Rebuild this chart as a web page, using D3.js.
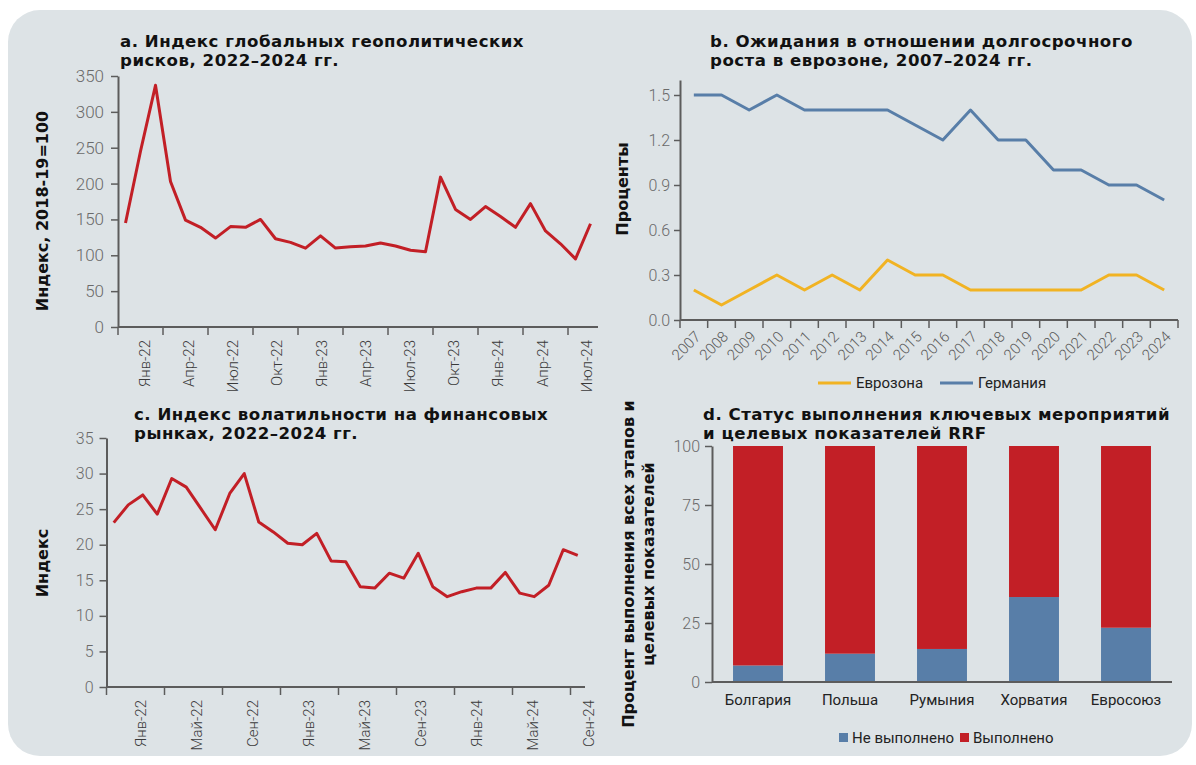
<!DOCTYPE html>
<html>
<head>
<meta charset="utf-8">
<script src="https://cdnjs.cloudflare.com/ajax/libs/d3/7.8.5/d3.min.js"></script>
<style>
  body { margin: 0; background: #fff; }
  svg { display: block; }
  .title { font-family: 'DejaVu Sans', sans-serif; font-weight: 700; font-size: 16.6px; letter-spacing: 0.5px; fill: #111; }
  .ytitle { font-family: 'DejaVu Sans', sans-serif; font-weight: 700; font-size: 16px; fill: #111; }
  .lbl { font-family: Roboto, 'Liberation Sans', sans-serif; font-weight: 300; }
</style>
</head>
<body>
<svg id="chart" width="1196" height="765"></svg>
<script>
// a. geopolitical risk index, monthly
let gprMonths = ['2022-01','2022-02','2022-03','2022-04','2022-05','2022-06','2022-07','2022-08','2022-09','2022-10','2022-11','2022-12',
                 '2023-01','2023-02','2023-03','2023-04','2023-05','2023-06','2023-07','2023-08','2023-09','2023-10','2023-11','2023-12',
                 '2024-01','2024-02','2024-03','2024-04','2024-05','2024-06','2024-07','2024-08'];
let gprValues = [145,245,337,203,149,139,124,140,139,150,123,118,110,127,110,112,113,117,113,107,105,209,164,150,168,154,139,172,134,116,95,144];
let gprTickLabels = ['Янв-22','Апр-22','Июл-22','Окт-22','Янв-23','Апр-23','Июл-23','Окт-23','Янв-24','Апр-24','Июл-24'];
let gprYTicks = [0,50,100,150,200,250,300,350];

// b. long-term growth expectations
let years = ['2007','2008','2009','2010','2011','2012','2013','2014','2015','2016','2017','2018','2019','2020','2021','2022','2023','2024'];
let euroValues = [0.2,0.1,0.2,0.3,0.2,0.3,0.2,0.4,0.3,0.3,0.2,0.2,0.2,0.2,0.2,0.3,0.3,0.2];
let germanyValues = [1.5,1.5,1.4,1.5,1.4,1.4,1.4,1.4,1.3,1.2,1.4,1.2,1.2,1.0,1.0,0.9,0.9,0.8];
let growthYTicks = [0,0.3,0.6,0.9,1.2,1.5];

// c. volatility index, monthly
let vixMonths = ['2022-01','2022-02','2022-03','2022-04','2022-05','2022-06','2022-07','2022-08','2022-09','2022-10','2022-11','2022-12',
                 '2023-01','2023-02','2023-03','2023-04','2023-05','2023-06','2023-07','2023-08','2023-09','2023-10','2023-11','2023-12',
                 '2024-01','2024-02','2024-03','2024-04','2024-05','2024-06','2024-07','2024-08','2024-09'];
let vixValues = [23.1,25.6,27.0,24.3,29.3,28.1,25.1,22.1,27.2,30.0,23.2,21.8,20.2,20.0,21.6,17.7,17.6,14.1,13.9,16.0,15.3,18.8,14.1,12.7,13.4,13.9,13.9,16.1,13.2,12.7,14.3,19.3,18.5];
let vixTickLabels = ['Янв-22','Май-22','Сен-22','Янв-23','Май-23','Сен-23','Янв-24','Май-24','Сен-24'];
let vixYTicks = [0,5,10,15,20,25,30,35];

// d. RRF milestones status
let countries = ['Болгария','Польша','Румыния','Хорватия','Евросоюз'];
let notDone = [7,12,14,36,23];
let done = [93,88,86,64,77];
let rrfYTicks = [0,25,50,75,100];

let red = '#c21f26';
let blue = '#587ea8';
let yellow = '#f1b323';
let axisColor = '#5c5c5c';

let svg = d3.select('#chart');

svg.append('rect')
   .attr('x', 8).attr('y', 10)
   .attr('width', 1184).attr('height', 746)
   .attr('rx', 32)
   .attr('fill', '#dde3e6');

let styleAxis = (g, size, color) => {
    g.select('.domain').attr('stroke', axisColor).attr('stroke-width', 2);
    g.selectAll('.tick line').attr('stroke', axisColor).attr('stroke-width', 1.5);
    g.selectAll('.tick text')
     .attr('class', 'lbl')
     .attr('fill', color)
     .style('font-size', size + 'px');
}

let title = (x, y, lines) => {
    lines.forEach((t, i) => {
        svg.append('text').attr('class', 'title')
           .attr('x', x).attr('y', y + i * 19.4)
           .text(t);
    });
}

let yTitle = (x, y, t) => {
    svg.append('text').attr('class', 'ytitle')
       .attr('transform', 'translate(' + x + ',' + y + ') rotate(-90)')
       .attr('text-anchor', 'middle')
       .attr('dy', '0.35em')
       .text(t);
}

// month axis: line, ticks every n slots, rotated labels
let monthAxis = (xScale, yBase, months, every, labels, labelScale, labelTop) => {
    let r = xScale.range();
    svg.append('line')
       .attr('x1', r[0]).attr('x2', r[1])
       .attr('y1', yBase).attr('y2', yBase)
       .attr('stroke', axisColor).attr('stroke-width', 2);
    svg.append('g').selectAll('line')
       .data(months.filter((d, i) => i % every === 0))
       .enter().append('line')
       .attr('x1', d => xScale(d)).attr('x2', d => xScale(d))
       .attr('y1', yBase).attr('y2', yBase + 8)
       .attr('stroke', axisColor).attr('stroke-width', 1.5);
    svg.append('g').selectAll('text')
       .data(labels)
       .enter().append('text')
       .attr('class', 'lbl')
       .attr('transform', d => 'translate(' + labelScale(d) + ',' + labelTop + ') rotate(-90)')
       .attr('text-anchor', 'end')
       .attr('dy', '0.35em')
       .attr('fill', '#3a3a3a')
       .style('font-size', '15px')
       .text(d => d);
}

// ---------- a ----------
let xA = d3.scaleBand().domain(gprMonths).range([118, 598]);
let yA = d3.scaleLinear().domain([0, 350]).range([327, 76]);
let bwA = xA.bandwidth();

title(120, 46.5, ['a. Индекс глобальных геополитических', 'рисков, 2022–2024 гг.']);
yTitle(42, 211, 'Индекс, 2018-19=100');

svg.append('g')
   .attr('transform', 'translate(' + xA.range()[0] + ',0)')
   .call(d3.axisLeft(yA).tickValues(gprYTicks).tickSize(7).tickPadding(7).tickSizeOuter(0))
   .call(g => styleAxis(g, 17, '#6a6a6a'));

let labelA = d3.scalePoint().domain(gprTickLabels)
   .range([xA(gprMonths[1]) + bwA / 2 + 4, xA(gprMonths[31]) + bwA / 2 - 4]);
monthAxis(xA, yA(0), gprMonths, 3, gprTickLabels, labelA, yA(0) + 13);

svg.append('path')
   .datum(gprValues)
   .attr('fill', 'none')
   .attr('stroke', red)
   .attr('stroke-width', 3)
   .attr('stroke-linejoin', 'round')
   .attr('d', d3.line().x((d, i) => xA(gprMonths[i]) + bwA / 2).y(d => yA(d)));

// ---------- b ----------
let xB = d3.scaleBand().domain(years).range([680, 1178]);
let yB = d3.scaleLinear().domain([0, 1.6]).range([320, 80]);
let bwB = xB.bandwidth();

title(710, 46.5, ['b. Ожидания в отношении долгосрочного', 'роста в еврозоне, 2007–2024 гг.']);
yTitle(622, 189, 'Проценты');

svg.append('g')
   .attr('transform', 'translate(' + xB.range()[0] + ',0)')
   .call(d3.axisLeft(yB).tickValues(growthYTicks).tickFormat(d3.format('.1f')).tickSize(6).tickPadding(4).tickSizeOuter(0))
   .call(g => styleAxis(g, 16, '#6a6a6a'));

svg.append('line')
   .attr('x1', xB.range()[0]).attr('x2', xB.range()[1])
   .attr('y1', yB(0)).attr('y2', yB(0))
   .attr('stroke', axisColor).attr('stroke-width', 2);
svg.append('g').selectAll('line')
   .data(years.map(d => xB(d)).concat([xB.range()[1]]))
   .enter().append('line')
   .attr('x1', d => d).attr('x2', d => d)
   .attr('y1', yB(0)).attr('y2', yB(0) + 8)
   .attr('stroke', axisColor).attr('stroke-width', 1.5);
svg.append('g').selectAll('text')
   .data(years)
   .enter().append('text')
   .attr('class', 'lbl')
   .attr('transform', d => 'translate(' + (xB(d) + bwB / 2 + 4) + ',' + (yB(0) + 14) + ') rotate(-45)')
   .attr('text-anchor', 'end')
   .attr('dy', '0.35em')
   .attr('fill', '#5a5a5a')
   .style('font-size', '15px')
   .text(d => d);

let lineB = d3.line().x((d, i) => xB(years[i]) + bwB / 2).y(d => yB(d));
[[euroValues, yellow], [germanyValues, blue]].forEach(s => {
    svg.append('path')
       .datum(s[0])
       .attr('fill', 'none')
       .attr('stroke', s[1])
       .attr('stroke-width', 3)
       .attr('stroke-linejoin', 'round')
       .attr('d', lineB);
});

let legB = [['Еврозона', yellow, 818], ['Германия', blue, 940]];
legB.forEach(l => {
    svg.append('line')
       .attr('x1', l[2]).attr('x2', l[2] + 33)
       .attr('y1', 383).attr('y2', 383)
       .attr('stroke', l[1]).attr('stroke-width', 3);
    svg.append('text').attr('class', 'lbl')
       .attr('x', l[2] + 38).attr('y', 383)
       .attr('dy', '0.35em')
       .attr('fill', '#222')
       .style('font-size', '15px')
       .style('font-weight', 400)
       .text(l[0]);
});

// ---------- c ----------
let xC = d3.scaleBand().domain(vixMonths).range([106.5, 585]);
let yC = d3.scaleLinear().domain([0, 35]).range([687, 438]);
let bwC = xC.bandwidth();

title(134, 420, ['c. Индекс волатильности на финансовых', 'рынках, 2022–2024 гг.']);
yTitle(42, 563, 'Индекс');

svg.append('g')
   .attr('transform', 'translate(' + xC.range()[0] + ',0)')
   .call(d3.axisLeft(yC).tickValues(vixYTicks).tickSize(7).tickPadding(6).tickSizeOuter(0))
   .call(g => styleAxis(g, 16, '#6a6a6a'));

let labelC = d3.scalePoint().domain(vixTickLabels)
   .range([xC(vixMonths[2]) + bwC / 2 - 2, xC(vixMonths[32]) + bwC / 2 + 11]);
monthAxis(xC, yC(0), vixMonths, 4, vixTickLabels, labelC, yC(0) + 13);

svg.append('path')
   .datum(vixValues)
   .attr('fill', 'none')
   .attr('stroke', red)
   .attr('stroke-width', 3)
   .attr('stroke-linejoin', 'round')
   .attr('d', d3.line().x((d, i) => xC(vixMonths[i]) + bwC / 2).y(d => yC(d)));

// ---------- d ----------
let xD = d3.scaleBand().domain(countries).range([712, 1172]).paddingInner(0.457).paddingOuter(0.2285);
let yD = d3.scaleLinear().domain([0, 100]).range([682, 446]);

title(703, 420, ['d. Статус выполнения ключевых мероприятий', 'и целевых показателей RRF']);
yTitle(628, 564, 'Процент выполнения всех этапов и');
yTitle(648, 564, 'целевых показателей');

let rows = countries.map((c, i) => ({country: c, notDone: notDone[i], done: done[i]}));
let stacked = d3.stack().keys(['notDone', 'done'])(rows);
let colD = {notDone: blue, done: red};

svg.append('g').selectAll('g')
   .data(stacked)
   .enter().append('g')
   .attr('fill', s => colD[s.key])
   .selectAll('rect')
   .data(s => s)
   .enter().append('rect')
   .attr('x', d => xD(d.data.country))
   .attr('width', xD.bandwidth())
   .attr('y', d => yD(d[1]))
   .attr('height', d => yD(d[0]) - yD(d[1]));

svg.append('g')
   .attr('transform', 'translate(712,0)')
   .call(d3.axisLeft(yD).tickValues(rrfYTicks).tickSize(7).tickPadding(5).tickSizeOuter(0))
   .call(g => styleAxis(g, 16, '#6a6a6a'));

svg.append('line')
   .attr('x1', 712).attr('x2', xD.range()[1])
   .attr('y1', yD(0)).attr('y2', yD(0))
   .attr('stroke', axisColor).attr('stroke-width', 2);

svg.append('g').selectAll('text')
   .data(countries)
   .enter().append('text')
   .attr('class', 'lbl')
   .attr('x', d => xD(d) + xD.bandwidth() / 2)
   .attr('y', 700)
   .attr('dy', '0.35em')
   .attr('text-anchor', 'middle')
   .attr('fill', '#222')
   .style('font-size', '15px')
   .style('font-weight', 400)
   .text(d => d);

let legD = [['Не выполнено', blue, 839], ['Выполнено', red, 960]];
legD.forEach(l => {
    svg.append('rect')
       .attr('x', l[2]).attr('y', 733)
       .attr('width', 9).attr('height', 9)
       .attr('fill', l[1]);
    svg.append('text').attr('class', 'lbl')
       .attr('x', l[2] + 13).attr('y', 737.5)
       .attr('dy', '0.35em')
       .attr('fill', '#222')
       .style('font-size', '15px')
       .style('font-weight', 400)
       .text(l[0]);
});
</script>
</body>
</html>
